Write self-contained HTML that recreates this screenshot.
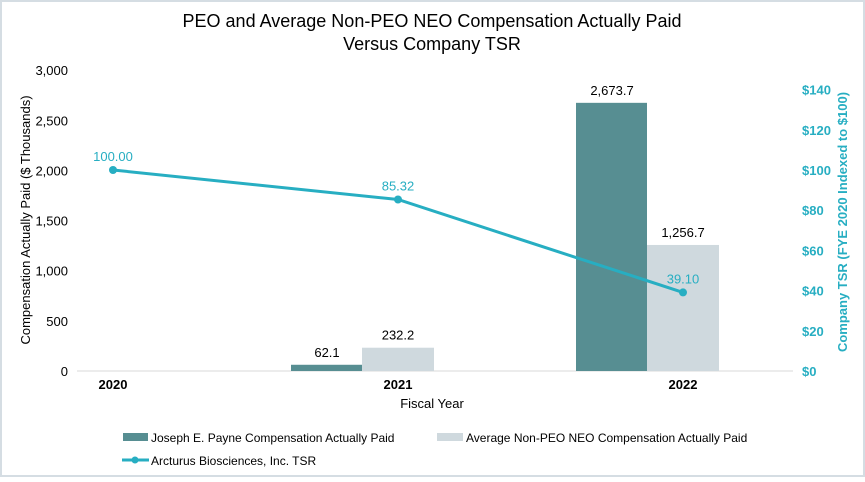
<!DOCTYPE html>
<html><head><meta charset="utf-8"><style>
body{margin:0;background:#fff;font-family:"Liberation Sans",Arial,sans-serif}
svg text{font-family:"Liberation Sans",Arial,sans-serif}
</style></head><body>
<svg id="c" width="865" height="477" xmlns="http://www.w3.org/2000/svg">
<rect x="1" y="1" width="863" height="475" fill="#fff" stroke="#d5dde3" stroke-width="2"/>
<text x="432" y="27" font-size="18" text-anchor="middle">PEO and Average Non-PEO NEO Compensation Actually Paid</text>
<text x="432" y="50" font-size="18" text-anchor="middle">Versus Company TSR</text>
<line x1="77" y1="371" x2="793" y2="371" stroke="#d9d9d9"/>
<g id="plot"></g>
<text x="432" y="408" font-size="13" text-anchor="middle">Fiscal Year</text>
<text transform="translate(30,220) rotate(-90)" font-size="13" text-anchor="middle">Compensation Actually Paid ($ Thousands)</text>
<text transform="translate(847,222) rotate(-90)" font-size="13" font-weight="bold" fill="#27aec2" text-anchor="middle">Company TSR (FYE 2020 Indexed to $100)</text>
<rect x="123" y="433" width="25" height="8" fill="#578e92"/>
<text x="151" y="442" font-size="12">Joseph E. Payne Compensation Actually Paid</text>
<rect x="437" y="433" width="26" height="8" fill="#cfd9de"/>
<text x="466" y="442" font-size="12">Average Non-PEO NEO Compensation Actually Paid</text>
<line x1="122" y1="460" x2="149" y2="460" stroke="#27aec2" stroke-width="3"/>
<circle cx="135" cy="460" r="3.5" fill="#27aec2"/>
<text x="151" y="465" font-size="12">Arcturus Biosciences, Inc. TSR</text>
</svg>
<script>
const categories=["2020","2021","2022"];
const peoValues=[null,62.1,2673.7];
const neoValues=[null,232.2,1256.7];
const tsrValues=[100.00,85.32,39.10];
const leftTicks=[0,500,1000,1500,2000,2500,3000];
const rightTicks=[0,20,40,60,80,100,120,140];
const NS="http://www.w3.org/2000/svg";
const g=document.getElementById('plot');
function x(i){return 113+285*i;}
function yL(v){return 371-v*0.1003;}
function yR(v){return 371-v*2.01;}
function el(t,a,txt){const e=document.createElementNS(NS,t);for(const k in a)e.setAttribute(k,a[k]);if(txt!=null)e.textContent=txt;g.appendChild(e);return e;}
const fmt=v=>v.toLocaleString('en-US',{minimumFractionDigits:1,maximumFractionDigits:1});
leftTicks.forEach(t=>{const e=el('text',{x:68,y:yL(t)+5,'font-size':13,'text-anchor':'end'},t.toLocaleString('en-US'));

});
rightTicks.forEach(t=>{const e=el('text',{x:802,y:yR(t)+5,'font-size':13,'font-weight':'bold',fill:'#27aec2'},'$'+t);

});
categories.forEach((c,i)=>{const e=el('text',{x:x(i),y:389,'font-size':13,'font-weight':'bold','text-anchor':'middle'},c);


if(peoValues[i]!=null){const b=el('rect',{x:x(i)-107,y:yL(peoValues[i]),width:71,height:371-yL(peoValues[i]),fill:'#578e92'});


const l=el('text',{x:x(i)-71,y:yL(peoValues[i])-8,'font-size':13,'text-anchor':'middle'},fmt(peoValues[i]));

}
if(neoValues[i]!=null){const b=el('rect',{x:x(i)-36,y:yL(neoValues[i]),width:72,height:371-yL(neoValues[i]),fill:'#cfd9de'});


const l=el('text',{x:x(i),y:yL(neoValues[i])-8,'font-size':13,'text-anchor':'middle'},fmt(neoValues[i]));

}
});
const pts=tsrValues.map((v,i)=>x(i)+','+yR(v)).join(' ');
const pl=el('polyline',{points:pts,fill:'none',stroke:'#27aec2','stroke-width':3});


tsrValues.forEach((v,i)=>{const c=el('circle',{cx:x(i),cy:yR(v),r:4,fill:'#27aec2'});


const l=el('text',{x:x(i),y:yR(v)-9,'font-size':13,fill:'#27aec2','text-anchor':'middle'},v.toFixed(2));

});
</script>
</body></html>
